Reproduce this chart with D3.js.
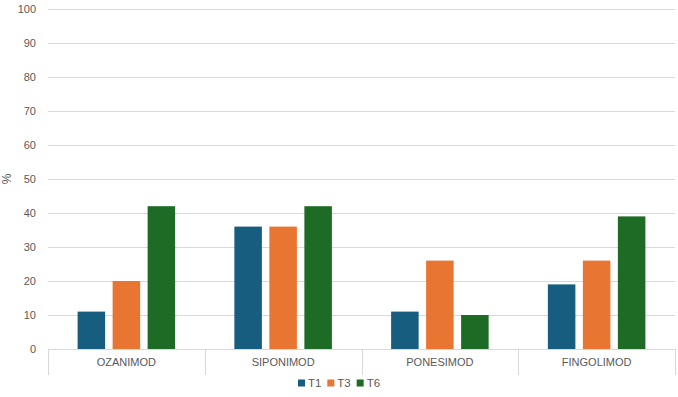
<!DOCTYPE html>
<html>
<head>
<meta charset="utf-8">
<script src="https://cdn.jsdelivr.net/npm/d3@7"></script>
<style>
  body { margin: 0; background: #fff; }
  text { font-family: "Liberation Sans Narrow", "Liberation Sans", Arial, sans-serif; }
</style>
</head>
<body>
<svg id="chart"></svg>
<script>
// categories and series
const categories = ["OZANIMOD", "SIPONIMOD", "PONESIMOD", "FINGOLIMOD"];
const seriesNames = ["T1", "T3", "T6"];
const t1 = [11, 36, 11, 19];
const t3 = [20, 36, 26, 26];
const t6 = [42, 42, 10, 39];
const yTicks = [0, 10, 20, 30, 40, 50, 60, 70, 80, 90, 100];
const colors = ["#175d7f", "#e97532", "#1d6b24"];

const values = [t1, t3, t6];

let width = 678;
let height = 397;
let marginLeft = 48;
let marginRight = 3;
let marginTop = 9;
let plotBottom = 349;

const data = categories.map((c, i) => ({
    cat: c,
    vals: seriesNames.map((s, j) => ({series: s, value: values[j][i]}))
}));

const svg = d3.select("#chart")
    .attr("width", width)
    .attr("height", height)
    .attr("viewBox", [0, 0, width, height]);

const x0 = d3.scaleBand(categories, [marginLeft, width - marginRight]).padding(0);
const x1 = d3.scaleBand(seriesNames, [0, x0.bandwidth()])
    .paddingInner(0.214)
    .paddingOuter(0.846);
const y = d3.scaleLinear([0, 100], [plotBottom, marginTop]);
const color = d3.scaleOrdinal(seriesNames, colors);

// gridlines + tick labels
const yAxis = d3.axisLeft(y).tickValues(yTicks).tickSize(0).tickPadding(12);
svg.append("g")
    .attr("transform", `translate(${marginLeft},0)`)
    .call(yAxis)
    .call(g => g.select(".domain").remove())
    .call(g => g.selectAll(".tick text")
        .attr("fill", "#595959")
        .attr("font-size", 11))
    .call(g => g.selectAll(".tick line").clone()
        .attr("x2", width - marginLeft - marginRight)
        .attr("stroke", "#d9d9d9")
        .attr("stroke-width", 1));

// y title
svg.append("text")
    .attr("transform", `translate(11,${y(50)}) rotate(-90)`)
    .attr("text-anchor", "middle")
    .attr("fill", "#595959")
    .attr("font-size", 12)
    .text("%");

// bars
svg.append("g")
    .selectAll("g")
    .data(data)
    .join("g")
    .attr("transform", d => `translate(${x0(d.cat)},0)`)
    .selectAll("rect")
    .data(d => d.vals)
    .join("rect")
    .attr("x", d => x1(d.series))
    .attr("y", d => y(d.value))
    .attr("width", x1.bandwidth())
    .attr("height", d => y(0) - y(d.value))
    .attr("fill", d => color(d.series));

// category axis with separators
const xAxis = d3.axisBottom(x0).tickSize(0).tickPadding(9);
svg.append("g")
    .attr("transform", `translate(0,${plotBottom})`)
    .call(xAxis)
    .call(g => g.select(".domain").attr("stroke", "#d9d9d9"))
    .call(g => g.selectAll(".tick text")
        .attr("fill", "#595959")
        .attr("font-size", 11));

const sepX = categories.map(c => x0(c)).concat([x0(categories[categories.length - 1]) + x0.bandwidth()]);
svg.append("g")
    .selectAll("line")
    .data(sepX)
    .join("line")
    .attr("x1", d => Math.round(d) + 0.5)
    .attr("x2", d => Math.round(d) + 0.5)
    .attr("y1", plotBottom)
    .attr("y2", plotBottom + 26)
    .attr("stroke", "#d9d9d9");

// legend
const legendX = d3.scaleBand(seriesNames, [298, 386]);
const legend = svg.append("g")
    .selectAll("g")
    .data(seriesNames)
    .join("g")
    .attr("transform", d => `translate(${legendX(d)},383)`);
legend.append("rect")
    .attr("x", 0)
    .attr("y", -3.5)
    .attr("width", 7)
    .attr("height", 7)
    .attr("fill", d => color(d));
legend.append("text")
    .attr("x", 10)
    .attr("dy", "0.35em")
    .attr("fill", "#595959")
    .attr("font-size", 11.5)
    .text(d => d);
</script>
</body>
</html>
